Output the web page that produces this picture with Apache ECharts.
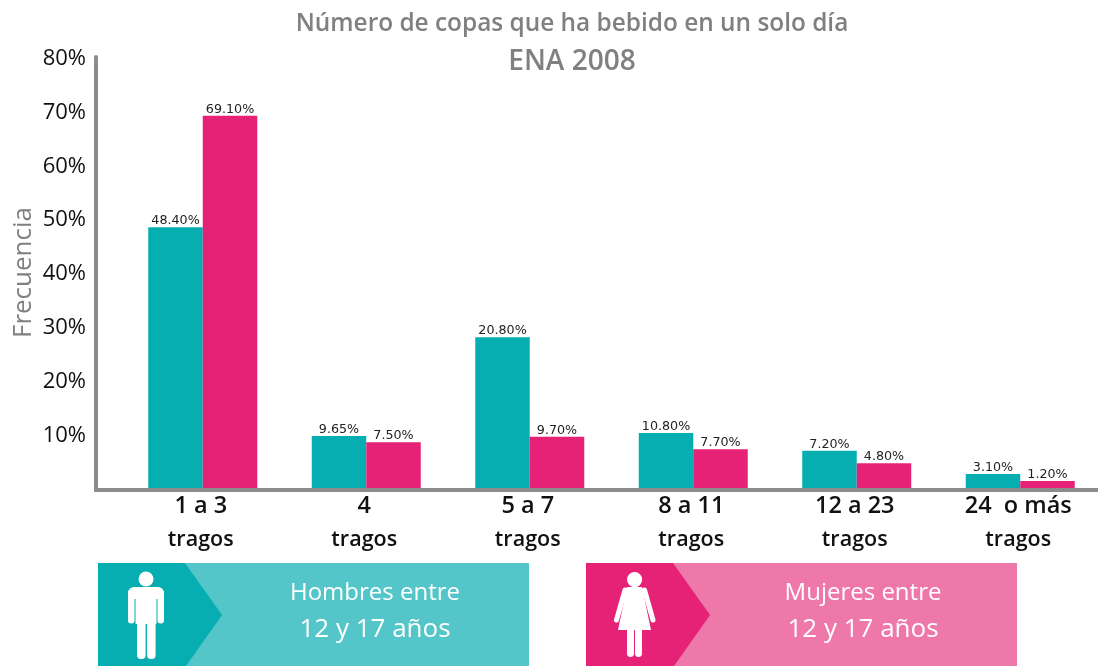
<!DOCTYPE html>
<html>
<head>
<meta charset="utf-8">
<style>html,body{margin:0;padding:0;background:#fff}#c{width:1098px;height:666px}</style>
<script src="https://cdn.jsdelivr.net/npm/echarts@6/dist/echarts.min.js"></script>
</head>
<body>
<div id="c"></div>
<script>
const categories = ['1 a 3\ntragos', '4\ntragos', '5 a 7\ntragos', '8 a 11\ntragos', '12 a 23\ntragos', '24  o más\ntragos'];
const hombres = [48.4, 9.65, 28.0, 10.2, 6.9, 2.6];
const mujeres = [69.1, 8.5, 9.5, 7.2, 4.6, 1.3];
const hombresLabels = ['48.40%', '9.65%', '20.80%', '10.80%', '7.20%', '3.10%'];
const mujeresLabels = ['69.10%', '7.50%', '9.70%', '7.70%', '4.80%', '1.20%'];
const FONT = 'Open Sans';
const TEAL = '#06AEB1', TEAL2 = '#54C5C8', PINK = '#E52276', PINK2 = '#ED78A9', GREY = '#8C8C8C';

function banner(x, dark, light, line1, line2) {
  const t = 563, b = 666;
  return [
    {type:'rect', shape:{x:x, y:t, width:431, height:b-t}, style:{fill:light}, silent:true},
    {type:'polygon', shape:{points:[[x,t],[x+87,t],[x+124,615],[x+88,b],[x,b]]}, style:{fill:dark}, silent:true},
    {type:'text', style:{x:x+277, y:593, text:line1, fill:'#fff', font:'500 24px "'+FONT+'"', align:'center', verticalAlign:'middle'}, silent:true},
    {type:'text', style:{x:x+277, y:630, text:line2, fill:'#fff', font:'500 26px "'+FONT+'"', align:'center', verticalAlign:'middle'}, silent:true}
  ];
}
const white = {fill:'#fff'};
const man = [
  {type:'circle', shape:{cx:146, cy:579, r:7.5}, style:white},
  {type:'rect', shape:{x:128, y:587, width:36, height:12, r:[6,6,0,0]}, style:white},
  {type:'rect', shape:{x:128, y:590, width:6.5, height:33.5, r:3.2}, style:white},
  {type:'rect', shape:{x:157.5, y:590, width:6.5, height:33.5, r:3.2}, style:white},
  {type:'rect', shape:{x:135.5, y:590, width:21, height:34}, style:white},
  {type:'rect', shape:{x:137, y:615, width:8.6, height:44, r:4}, style:white},
  {type:'rect', shape:{x:147, y:615, width:8.6, height:44, r:4}, style:white}
];
const woman = [
  {type:'circle', shape:{cx:634.6, cy:579.6, r:7.6}, style:white},
  {type:'polygon', shape:{points:[[627,587],[642,587],[651,630],[618,630]]}, style:white},
  {type:'polyline', shape:{points:[[625,590],[616.5,620]]}, style:{stroke:'#fff', lineWidth:5, lineCap:'round', fill:null}},
  {type:'polyline', shape:{points:[[644.5,590],[653,620]]}, style:{stroke:'#fff', lineWidth:5, lineCap:'round', fill:null}},
  {type:'rect', shape:{x:627, y:625, width:7, height:32, r:3.4}, style:white},
  {type:'rect', shape:{x:635, y:625, width:7, height:32, r:3.4}, style:white}
];

function barSeries(name, values, labels, color) {
  return {
    name, type:'bar', data:values, barWidth:54.5, barGap:0,
    itemStyle:{color},
    label:{show:true, position:'top', distance:0, offset:[0,0], color:'#222', fontFamily:'DejaVu Sans', fontSize:12.7,
      formatter:p => labels[p.dataIndex]}
  };
}

const chart = echarts.init(document.getElementById('c'), null, {renderer:'canvas'});
chart.setOption({
  animation:false,
  backgroundColor:'#fff',
  title:{text:'{a|Número de copas que ha bebido en un solo día}\n{b|ENA 2008}', left:567, top:0, textAlign:'center',
    textStyle:{rich:{
      a:{color:'#808080', fontFamily:FONT, fontWeight:600, fontSize:24.4, lineHeight:38, align:'center'},
      b:{color:'#808080', fontFamily:FONT, fontWeight:600, fontSize:28, lineHeight:38, align:'center'}}}},
  grid:{left:121, width:981, top:57, height:431, outerBoundsMode:'none'},
  xAxis:{type:'category', data:categories,
    axisLine:{show:false}, axisTick:{show:false},
    axisLabel:{interval:0, hideOverlap:false, margin:2, padding:[0,4,0,0],
      formatter:v => { const p = v.split('\n'); return '{a|' + p[0] + '}\n{b|' + p[1] + '}'; },
      rich:{
        a:{color:'#111', fontFamily:FONT, fontSize:23.5, fontWeight:600, lineHeight:33, align:'center'},
        b:{color:'#111', fontFamily:FONT, fontSize:21.5, fontWeight:600, lineHeight:33, align:'center'}}}},
  yAxis:{type:'value', min:0, max:80, interval:10, offset:25,
    name:'Frecuencia', nameLocation:'middle', nameGap:59, nameRotate:90, nameMoveOverlap:false,
    nameTextStyle:{color:'#808080', fontFamily:FONT, fontSize:26},
    axisLine:{show:true, lineStyle:{color:GREY, width:4}}, axisTick:{show:false}, splitLine:{show:false},
    axisLabel:{color:'#111', fontFamily:FONT, fontSize:22, margin:10, verticalAlign:'top', lineHeight:3, formatter:v => v === 0 ? '' : v + '%'}},
  series:[barSeries('Hombres', hombres, hombresLabels, TEAL), barSeries('Mujeres', mujeres, mujeresLabels, PINK)],
  graphic:[
    {type:'rect', shape:{x:94, y:488, width:1004, height:4}, style:{fill:GREY}, silent:true},
    ...banner(98, TEAL, TEAL2, 'Hombres entre', '12 y 17 años'),
    ...banner(586, PINK, PINK2, 'Mujeres entre', '12 y 17 años'),
    ...man, ...woman
  ]
});
</script>
</body>
</html>
